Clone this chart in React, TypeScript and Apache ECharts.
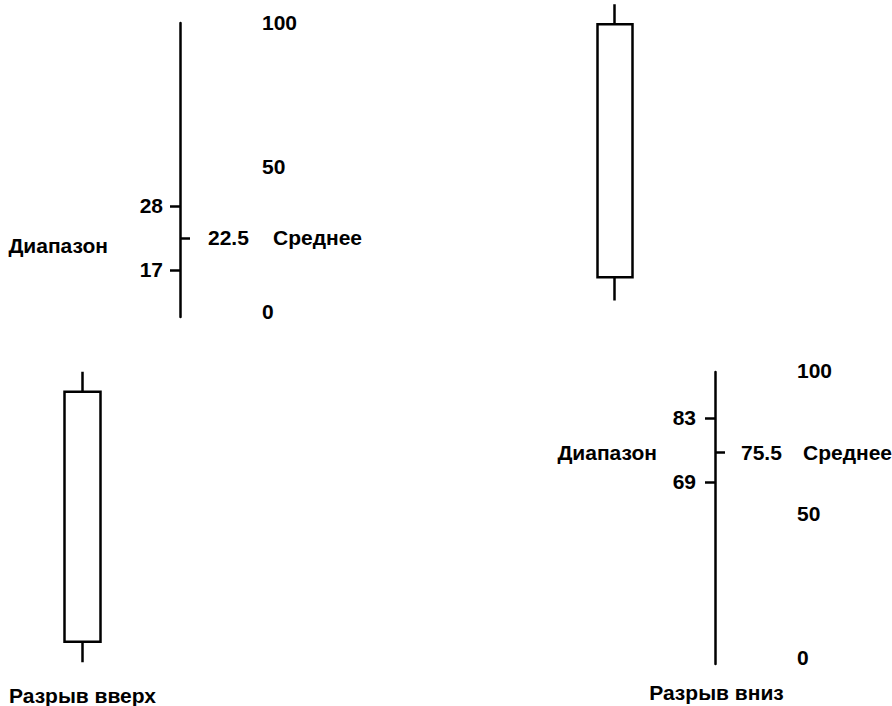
import React, { useEffect, useRef } from 'react';
import * as echarts from 'echarts';

// ---- data ----
const scaleTicks = [0, 50, 100];
const rangeTop = [17, 28];
const meanTop = [22.5];
const rangeBottom = [69, 83];
const meanBottom = [75.5];
// [open, close, lowest, highest]
const candleTopRight = [[11.7, 99.2, 3.6, 106.1]];
const candleBottomLeft = [[5.0, 92.4, -2.2, 99.4]];
const captionTop = [''];
const captionUp = ['Разрыв вверх'];
const captionDown = ['Разрыв вниз'];
const rangeName = 'Диапазон';
const meanName = 'Среднее';

const FONT = '"Liberation Sans", Arial, sans-serif';
const txt = { color: '#000', fontSize: 21, fontWeight: 'bold' as const, fontFamily: FONT };
const stroke = { color: '#000', width: 2.5 };

function rangeAxes(grid: number, min: number, max: number, range: number[], mean: number[],
  m: { range: number; mean: number; meanName: number; rangeName: number; rangeLine: number }) {
  const base = { gridIndex: grid, type: 'value', position: 'left', min, max, splitLine: { show: false } };
  const nameAlign = m.rangeLine > 0
    ? { verticalAlign: 'top', lineHeight: m.rangeLine }
    : { verticalAlign: 'middle' };
  return [
    {
      ...base,
      axisLine: { show: true, lineStyle: stroke },
      axisTick: { show: true, customValues: range, length: 10, lineStyle: stroke },
      axisLabel: { ...txt, customValues: range, margin: m.range },
    },
    {
      ...base,
      axisLine: { show: false },
      axisTick: { show: true, inside: true, customValues: mean, length: 10, lineStyle: stroke },
      axisLabel: { ...txt, inside: true, customValues: mean, margin: m.mean, formatter: (v: number) => String(v) },
    },
    {
      ...base,
      axisLine: { show: false },
      axisTick: { show: false },
      axisLabel: { ...txt, inside: true, customValues: mean, margin: m.meanName, formatter: () => meanName },
    },
    {
      ...base,
      axisLine: { show: false },
      axisTick: { show: false },
      axisLabel: {
        ...txt, customValues: mean, margin: m.rangeName, formatter: () => rangeName,
        ...nameAlign,
      },
    },
  ];
}

function scaleAxis(grid: number) {
  return {
    gridIndex: grid, type: 'value', position: 'left', min: 0, max: 100,
    splitLine: { show: false }, axisLine: { show: false }, axisTick: { show: false },
    axisLabel: { ...txt, inside: true, customValues: scaleTicks, margin: 82 },
  };
}

function candleYAxis(grid: number) {
  return { gridIndex: grid, type: 'value', min: 0, max: 100, show: false };
}

const candleStyle = {
  color: '#fff', color0: '#fff', borderColor: '#000', borderColor0: '#000', borderWidth: 2.5,
};

export default function App() {
  const ref = useRef<HTMLDivElement>(null);
  useEffect(() => {
    if (!ref.current) return;
    const chart = echarts.init(ref.current, null, { renderer: 'svg' });
    const yAxis: any[] = [
      ...rangeAxes(0, 8.92, 59.45, rangeTop, meanTop, { range: 17, mean: 28, meanName: 93, rangeName: 72, rangeLine: 16 }), // 0-3
      scaleAxis(1), // 4
      candleYAxis(2), // 5
      ...rangeAxes(3, 29.18, 93.06, rangeBottom, meanBottom, { range: 19, mean: 26, meanName: 88, rangeName: 58, rangeLine: 0 }), // 6-9
      scaleAxis(4), // 10
      candleYAxis(5), // 11
    ];
    const hiddenValueX = (g: number) => ({ gridIndex: g, type: 'value', show: false });
    const option: any = {
      animation: false,
      backgroundColor: '#fff',
      grid: [
        { left: 180, top: 23, width: 6, height: 294 },
        { left: 180, top: 22, width: 6, height: 289 },
        { left: 596, top: 22, width: 38, height: 289 },
        { left: 715, top: 372, width: 6, height: 292 },
        { left: 715, top: 370, width: 6, height: 287 },
        { left: 63, top: 370, width: 39, height: 287 },
      ],
      xAxis: [
        hiddenValueX(0),
        hiddenValueX(1),
        { gridIndex: 2, type: 'category', data: captionTop, show: false },
        {
          gridIndex: 3, type: 'category', data: captionDown,
          axisLine: { show: false }, axisTick: { show: false }, splitLine: { show: false },
          axisLabel: { ...txt, margin: 18 },
        },
        hiddenValueX(4),
        {
          gridIndex: 5, type: 'category', data: captionUp,
          axisLine: { show: false }, axisTick: { show: false }, splitLine: { show: false },
          axisLabel: { ...txt, margin: 29 },
        },
      ],
      yAxis,
      series: [
        {
          type: 'candlestick', xAxisIndex: 2, yAxisIndex: 5, data: candleTopRight,
          barWidth: 35, clip: false, itemStyle: candleStyle,
        },
        {
          type: 'candlestick', xAxisIndex: 5, yAxisIndex: 11, data: candleBottomLeft,
          barWidth: 36, clip: false, itemStyle: candleStyle,
        },
      ],
    };
    chart.setOption(option);
    return () => chart.dispose();
  }, []);
  return (
    <div
      ref={ref}
      style={{ position: 'absolute', left: 0, top: 0, width: 892, height: 706, background: '#fff' }}
    />
  );
}
